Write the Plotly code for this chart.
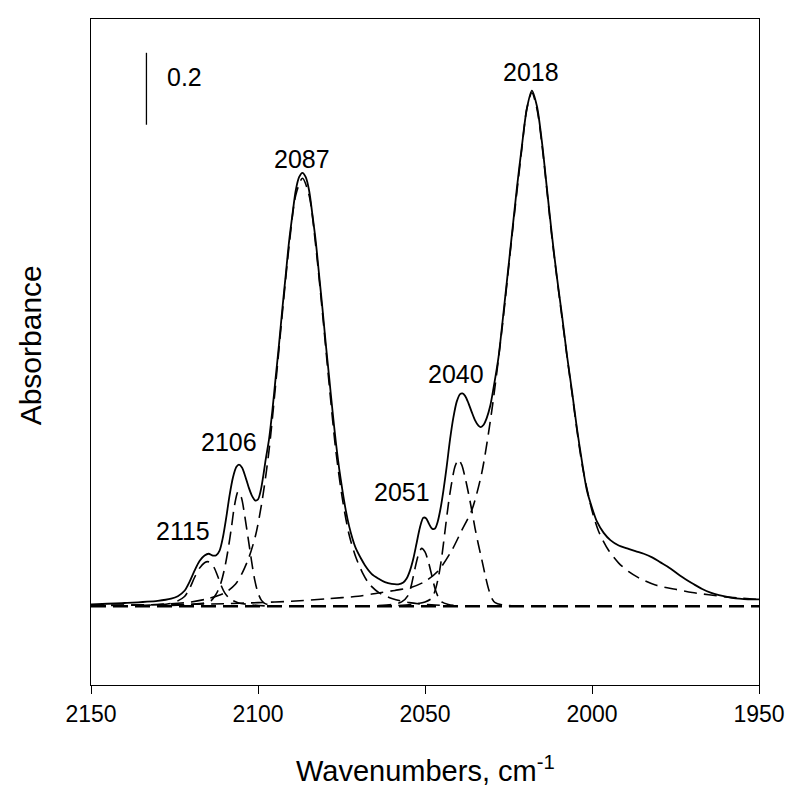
import plotly.graph_objects as go

# ---------------- data ----------------
# measured spectrum (solid line)
wn_total = [2150, 2140, 2130, 2126, 2124, 2122, 2120.5, 2119, 2117.5, 2116, 2114.8, 2113.5,
            2112.5, 2111.5, 2110.5, 2109.5, 2108.5, 2107.5, 2106.5, 2105.7, 2104.8, 2103.8,
            2102.8, 2101.8, 2100.8, 2100, 2099.2, 2098.5, 2097.7, 2096.7, 2095.7, 2094.7,
            2093.7, 2092.7, 2091.7, 2090.7, 2089.7, 2088.7, 2087.7, 2086.7, 2085.7, 2084.7,
            2083.7, 2082.7, 2081.7, 2080.7, 2079.7, 2078.7, 2077.7, 2076.7, 2075.7, 2074.7,
            2073.7, 2072.7, 2071.7, 2070.7, 2069, 2068, 2066, 2064, 2062, 2060, 2058, 2056.5,
            2055.5, 2054.5, 2053.5, 2052.5, 2051.5, 2050.5, 2049.7, 2048.8, 2047.8, 2047,
            2046.2, 2045.4, 2044.5, 2043.5, 2042.5, 2041.5, 2040.5, 2039.5, 2038.8, 2038,
            2037, 2036, 2035, 2034, 2033.3, 2032.5, 2031.5, 2030.5, 2029.5, 2028, 2027,
            2025.5, 2024, 2022.5, 2021, 2019.5, 2018, 2016.5, 2015, 2013.5, 2012, 2010.5,
            2009, 2007.5, 2006, 2004.5, 2003, 2001.5, 2000, 1998.5, 1996.5, 1994.5, 1992,
            1989.5, 1987, 1984.5, 1982, 1979.5, 1977, 1974.5, 1972, 1969.5, 1967, 1964.5,
            1962, 1959.5, 1957, 1954.5, 1952, 1950]
abs_total = [0.005, 0.009, 0.015, 0.021, 0.028, 0.043, 0.068, 0.099, 0.126, 0.141, 0.146, 0.141,
             0.142, 0.155, 0.192, 0.247, 0.309, 0.358, 0.387, 0.394, 0.386, 0.361,
             0.331, 0.307, 0.294, 0.297, 0.321, 0.358, 0.408, 0.464, 0.544, 0.637,
             0.729, 0.828, 0.921, 1.014, 1.088, 1.156, 1.193, 1.205, 1.193, 1.156,
             1.088, 1.014, 0.921, 0.828, 0.729, 0.637, 0.544, 0.457, 0.383, 0.321,
             0.266, 0.222, 0.188, 0.161, 0.130, 0.114, 0.090, 0.077, 0.067, 0.062, 0.061, 0.066,
             0.077, 0.099, 0.132, 0.176, 0.220, 0.246, 0.245, 0.229, 0.215, 0.216,
             0.235, 0.269, 0.321, 0.389, 0.464, 0.525, 0.569, 0.590, 0.592, 0.585,
             0.565, 0.540, 0.517, 0.502, 0.498, 0.504, 0.524, 0.556, 0.606, 0.692, 0.773,
             0.902, 1.032, 1.162, 1.279, 1.384, 1.434, 1.391, 1.292, 1.162, 1.032, 0.915,
             0.810, 0.698, 0.599, 0.494, 0.402, 0.321, 0.274, 0.235, 0.204, 0.184, 0.169,
             0.161, 0.153, 0.146, 0.136, 0.122, 0.108, 0.091, 0.075, 0.061, 0.048, 0.038,
             0.031, 0.026, 0.022, 0.020, 0.019, 0.019]

# fitted component bands (dashed lines)
wn_2115 = [2136, 2130, 2126, 2124, 2122, 2120.5, 2119, 2117.5, 2116, 2115, 2114, 2113, 2112,
           2111, 2110, 2108.5, 2106, 2102, 2098]
abs_2115 = [0.002, 0.004, 0.008, 0.015, 0.027, 0.049, 0.080, 0.106, 0.121, 0.124, 0.120, 0.105,
            0.082, 0.057, 0.038, 0.021, 0.010, 0.004, 0.001]

wn_2106 = [2126, 2120, 2116, 2114, 2113, 2112, 2111, 2110, 2109, 2108, 2107, 2106, 2105, 2104,
           2103, 2102, 2101, 2100, 2099, 2098, 2096]
abs_2106 = [0.002, 0.005, 0.009, 0.016, 0.027, 0.043, 0.068, 0.105, 0.155, 0.216, 0.282, 0.318,
            0.303, 0.253, 0.192, 0.130, 0.074, 0.037, 0.017, 0.008, 0.002]

wn_2087 = [2150, 2130, 2120, 2115, 2110, 2106.7, 2104.7, 2102.7, 2100.7, 2098.7, 2096.7, 2094.7,
           2092.7, 2090.7, 2088.7, 2086.7, 2084.7, 2082.7, 2080.7, 2078.7, 2076.7, 2074.7,
           2072.7, 2070.7, 2068.7, 2066.7, 2063.7, 2059.7, 2054.7, 2048, 2042]
abs_2087 = [0.002, 0.005, 0.012, 0.021, 0.037, 0.062, 0.093, 0.136, 0.198, 0.297, 0.433, 0.618,
            0.816, 1.001, 1.143, 1.190, 1.143, 1.001, 0.816, 0.618, 0.433, 0.297,
            0.198, 0.136, 0.093, 0.062, 0.037, 0.021, 0.010, 0.004, 0.001]

wn_2051 = [2064, 2060, 2057, 2055, 2054, 2053, 2052, 2051, 2050, 2049, 2048, 2047,
           2046, 2045, 2043, 2040]
abs_2051 = [0.002, 0.005, 0.012, 0.031, 0.062, 0.105, 0.142, 0.161, 0.151, 0.124,
            0.087, 0.049, 0.025, 0.012, 0.005, 0.001]

wn_2040 = [2058, 2053, 2050, 2048, 2047, 2046, 2045, 2044, 2043, 2042, 2041, 2040, 2039,
           2038, 2037, 2036, 2035, 2034, 2033, 2032, 2031, 2030, 2029, 2027, 2024]
abs_2040 = [0.002, 0.006, 0.012, 0.022, 0.043, 0.080, 0.136, 0.210, 0.284, 0.344, 0.389,
            0.408, 0.393, 0.358, 0.315, 0.267, 0.216, 0.171, 0.130, 0.087, 0.049, 0.022, 0.010,
            0.004, 0.001]

wn_2018 = [2150, 2125, 2110, 2100, 2090, 2079, 2070, 2064, 2059, 2054, 2050, 2046, 2042, 2039,
           2036, 2033, 2030, 2027, 2024, 2021, 2019.5, 2018, 2016.5, 2015, 2012, 2009, 2006,
           2003, 2000, 1998, 1995, 1992, 1989, 1986, 1981, 1975, 1970, 1965, 1960, 1955, 1950]
abs_2018 = [0.002, 0.005, 0.007, 0.010, 0.014, 0.021, 0.028, 0.037, 0.044, 0.053, 0.069, 0.099,
            0.155, 0.211, 0.267, 0.371, 0.544, 0.766, 1.026, 1.273, 1.384, 1.428, 1.384, 1.285,
            1.026, 0.803, 0.593, 0.396, 0.266, 0.208, 0.155, 0.120, 0.096, 0.079, 0.059, 0.047,
            0.038, 0.032, 0.026, 0.022, 0.019]

# zero line
wn_base = [2150, 1950]
abs_base = [0.0, 0.0]

# peak labels
label_text = ["2115", "2106", "2087", "2051", "2040", "2018"]
label_wn = [2122.6, 2108.6, 2086.7, 2056.9, 2040.8, 2018.4]
label_abs = [0.208, 0.456, 1.244, 0.317, 0.647, 1.486]

# absorbance scale bar (0.2)
scale_wn = [2133.4, 2133.4]
scale_abs = [1.339, 1.539]
scale_label = "0.2"
scale_label_wn = 2127.8
scale_label_abs = 1.472

x_ticks = [2150, 2100, 2050, 2000, 1950]
x_range = [2150, 1950]
y_range = [-0.219, 1.633]

# ---------------- figure ----------------
FONT = "Liberation Sans, Arial, sans-serif"
DASH = "13px,7px"

fig = go.Figure()

components = [(wn_2115, abs_2115), (wn_2106, abs_2106), (wn_2087, abs_2087),
              (wn_2051, abs_2051), (wn_2040, abs_2040), (wn_2018, abs_2018)]
for wx, ay in components:
    fig.add_trace(go.Scatter(x=wx, y=ay, mode="lines",
                             line=dict(color="black", width=1.6, dash=DASH,
                                       shape="spline", smoothing=0.8),
                             hoverinfo="skip", showlegend=False))

fig.add_trace(go.Scatter(x=wn_base, y=abs_base, mode="lines",
                         line=dict(color="black", width=2.4, dash="15px,7px"),
                         hoverinfo="skip", showlegend=False))

fig.add_trace(go.Scatter(x=wn_total, y=abs_total, mode="lines",
                         line=dict(color="black", width=1.8, shape="spline", smoothing=0.8),
                         hoverinfo="skip", showlegend=False))

fig.add_trace(go.Scatter(x=scale_wn, y=scale_abs, mode="lines",
                         line=dict(color="black", width=1.3),
                         hoverinfo="skip", showlegend=False))

annotations = []
for t, xw, ya in zip(label_text, label_wn, label_abs):
    annotations.append(dict(x=xw, y=ya, xref="x", yref="y", text=t, showarrow=False,
                            font=dict(family=FONT, size=25, color="black"),
                            xanchor="center", yanchor="middle"))
annotations.append(dict(x=scale_label_wn, y=scale_label_abs, xref="x", yref="y",
                        text=scale_label, showarrow=False,
                        font=dict(family=FONT, size=25, color="black"),
                        xanchor="left", yanchor="middle"))
annotations.append(dict(x=0.5, y=0, xref="paper", yref="paper",
                        text="Wavenumbers, cm<sup>-1</sup>", showarrow=False,
                        font=dict(family=FONT, size=29, color="black"),
                        xanchor="center", yanchor="bottom", yshift=-104))
annotations.append(dict(x=0, y=0.51, xref="paper", yref="paper",
                        text="Absorbance", showarrow=False, textangle=-90,
                        font=dict(family=FONT, size=30, color="black"),
                        xanchor="center", yanchor="middle", xshift=-61))

# page body has an 8 px margin: size the figure so it fits the 795x789 window
fig.update_layout(
    width=787, height=781,
    margin=dict(l=83, r=33, t=10, b=104),
    paper_bgcolor="white", plot_bgcolor="white",
    font=dict(family=FONT, color="black"),
    annotations=annotations,
    showlegend=False,
)
fig.update_xaxes(range=x_range, tickvals=x_ticks, ticktext=[str(v) for v in x_ticks],
                 ticks="outside", ticklen=8, tickwidth=1.3, tickcolor="black",
                 showline=True, linecolor="black", linewidth=1.3, mirror=True,
                 showgrid=False, zeroline=False,
                 tickfont=dict(family=FONT, size=23, color="black"))
fig.update_yaxes(range=y_range, showticklabels=False, ticks="",
                 showline=True, linecolor="black", linewidth=1.3, mirror=True,
                 showgrid=False, zeroline=False)

fig.write_html("out.html")
